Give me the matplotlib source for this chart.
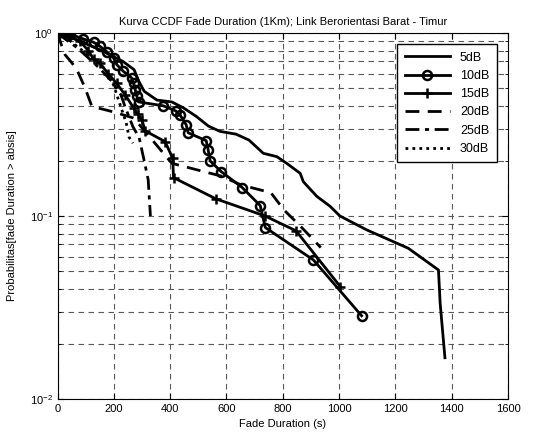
import matplotlib.pyplot as plt
from matplotlib.ticker import FixedLocator, NullFormatter

plt.rcParams["font.family"] = ["Liberation Sans", "DejaVu Sans"]
plt.rcParams["font.size"] = 8

# data (fade duration in s, CCDF probability)
x_5 = [0, 60, 150, 232, 272, 290, 308, 353, 406, 447, 493, 536, 577, 634, 680,
       731, 779, 814, 862, 873, 921, 968, 1003, 1098, 1246, 1353, 1359, 1376]
y_5 = [1.0, 0.93, 0.81, 0.70, 0.63, 0.54, 0.48, 0.43, 0.42, 0.39, 0.35, 0.31,
       0.29, 0.28, 0.26, 0.22, 0.211, 0.194, 0.171, 0.154, 0.128, 0.113, 0.1,
       0.084, 0.0666, 0.0507, 0.0334, 0.0168]

x_10 = [0, 45, 90, 128, 151, 175, 199, 211, 234, 264, 270, 276, 282, 288, 376,
        420, 436, 457, 464, 528, 535, 542, 581, 656, 720, 738, 909, 1080]
y_10 = [1.0, 0.985, 0.93, 0.89, 0.845, 0.79, 0.73, 0.67, 0.617, 0.567, 0.533,
        0.49, 0.45, 0.42, 0.4, 0.375, 0.355, 0.315, 0.285, 0.258, 0.23, 0.2,
        0.175, 0.143, 0.114, 0.0865, 0.0575, 0.0285]

x_15 = [0, 40, 80, 110, 128, 150, 180, 210, 240, 270, 285, 300, 311, 382, 409,
        412, 563, 737, 847, 1005]
y_15 = [1.0, 0.96, 0.9, 0.8, 0.72, 0.685, 0.6, 0.53, 0.46, 0.39, 0.36, 0.335,
        0.292, 0.255, 0.207, 0.162, 0.124, 0.1, 0.083, 0.041]

x_20 = [0, 15, 27, 50, 69, 98, 122, 200, 270, 311, 406, 500, 583, 651, 758,
        804, 864, 935]
y_20 = [1.0, 0.85, 0.76, 0.69, 0.63, 0.5, 0.397, 0.37, 0.343, 0.29, 0.194,
        0.178, 0.165, 0.148, 0.134, 0.108, 0.0876, 0.0672]

x_25 = [0, 30, 70, 110, 150, 190, 225, 240, 268, 290, 307, 322, 330]
y_25 = [1.0, 0.92, 0.83, 0.73, 0.64, 0.55, 0.46, 0.395, 0.307, 0.268, 0.203,
        0.158, 0.1]

x_30 = [0, 40, 80, 120, 151, 180, 199, 219, 244, 254, 268]
y_30 = [1.0, 0.92, 0.82, 0.74, 0.68, 0.6, 0.52, 0.42, 0.323, 0.27, 0.25]

fig = plt.figure(figsize=(5.39, 4.37), dpi=100)
ax = fig.add_axes([0.1067, 0.087, 0.8358, 0.8375])

lw = 2.0
ax.plot(x_5, y_5, "k-", lw=lw, label="5dB")
ax.plot(x_10, y_10, "k-", lw=lw, marker="o", ms=6.5, mfc="none", mew=1.8,
        label="10dB")
ax.plot(x_15, y_15, "k-", lw=lw, marker="+", ms=7, mew=1.8, label="15dB")
ax.plot(x_20, y_20, "k--", lw=lw, dashes=(5, 3), label="20dB")
ax.plot(x_25, y_25, "k-.", lw=lw, dashes=(5, 2, 1.5, 2), label="25dB")
ax.plot(x_30, y_30, "k:", lw=lw, dashes=(1, 1.5), label="30dB")

ax.set_yscale("log")
ax.set_xlim(0, 1600)
ax.set_ylim(0.01, 1)
ax.set_xticks(range(0, 1601, 200))
ax.yaxis.set_minor_locator(FixedLocator(
    [m * 10.0 ** e for e in (-2, -1) for m in range(2, 10)]))
ax.yaxis.set_minor_formatter(NullFormatter())

ax.grid(True, which="both", color="0.35", linestyle=(0, (5, 4)), lw=0.8)
ax.tick_params(which="both", direction="in", top=True, right=True)
ax.tick_params(which="major", length=4)
ax.tick_params(which="minor", length=2)

ax.set_title("Kurva CCDF Fade Duration (1Km); Link Berorientasi Barat - Timur",
             fontsize=8, pad=6)
ax.set_xlabel("Fade Duration (s)")
ax.set_ylabel("Probabilitas[fade Duration > absis]", labelpad=9)

leg = ax.legend(loc="upper right", handlelength=3.6, fancybox=False,
                edgecolor="k", framealpha=1, borderpad=0.6, labelspacing=0.5,
                fontsize=9, borderaxespad=0.9)
leg.get_frame().set_linewidth(1.0)

fig.savefig("out.png", dpi=100)
